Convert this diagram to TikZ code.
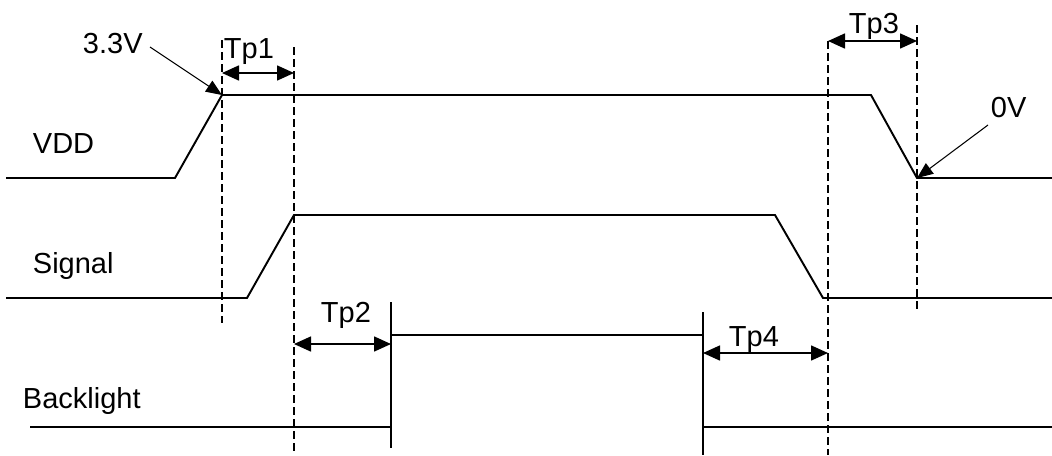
\documentclass[tikz,border=0pt]{standalone}
\usepackage{fontspec}
\setmainfont{Liberation Sans}
\usetikzlibrary{arrows.meta}

\begin{document}
\begin{tikzpicture}[x=0.2mm,y=-0.2mm,line width=1.1pt,
    font=\fontsize{16.5}{19}\selectfont,
    lbl/.style={inner sep=0pt,anchor=base west},
    guide/.style={line width=0.9pt,dash pattern=on 1.6mm off 0.8mm},
    span/.style={line width=0.9pt,{Triangle[length=3.4mm,width=3mm]}-{Triangle[length=3.4mm,width=3mm]}},
    pointer/.style={line width=0.6pt,-{Triangle[length=3.2mm,width=2.6mm]}}]
\useasboundingbox (0,0) rectangle (1052,455);
% guide lines
\coordinate (g1) at (222,0);
\coordinate (g2) at (294,0);
\coordinate (g3) at (828,0);
\coordinate (g4) at (917,0);
\draw[guide] (g1 |- 0,40) -- (g1 |- 0,323);
\draw[guide] (g2 |- 0,47) -- (g2 |- 0,455);
\draw[guide] (g3 |- 0,41) -- (g3 |- 0,455);
\draw[guide] (g4 |- 0,25) -- (g4 |- 0,312);
% VDD
\coordinate (vddup) at (222,95);
\coordinate (vdddown) at (917,178);
\draw (6,178) -- (175,178) -- (vddup) -- (871,95) -- (vdddown) -- (1052,178);
% Signal
\draw (6,298) -- (247,298) -- (294,215) -- (775,215) -- (823,298) -- (1052,298);
% Backlight
\coordinate (blon) at (391,335);
\coordinate (bloff) at (703,335);
\draw (30,427) -- (391,427);
\draw (391,302) -- (391,448);
\draw (blon) -- (bloff);
\draw (703,312) -- (703,455);
\draw (703,427) -- (1052,427);
% labels
\node[lbl] (vdd) at (32,153) {VDD};
\node[lbl] (signal) at (32,273) {Signal};
\node[lbl] (backlight) at (22,408) {Backlight};
\node[lbl] (volthigh) at (82,53) {3.3V};
\node[lbl] (voltlow) at (990,117) {0V};
\node[lbl] (tp1) at (223,58) {Tp1};
\node[lbl] (tp2) at (320,322) {Tp2};
\node[lbl] (tp3) at (848,33) {Tp3};
\node[lbl] (tp4) at (728,346) {Tp4};
% pointers
\coordinate (fromhigh) at (150,47);
\coordinate (fromlow) at (988,125);
\draw[pointer] (fromhigh) -- (vddup);
\draw[pointer] (fromlow) -- (vdddown);
% timing spans
\draw[span] (g1 |- 0,73) -- (g2 |- 0,73);
\draw[span] (g2 |- 0,344) -- (blon |- 0,344);
\draw[span] (g3 |- 0,41) -- (g4 |- 0,41);
\draw[span] (bloff |- 0,353) -- (g3 |- 0,353);
\end{tikzpicture}
\end{document}
